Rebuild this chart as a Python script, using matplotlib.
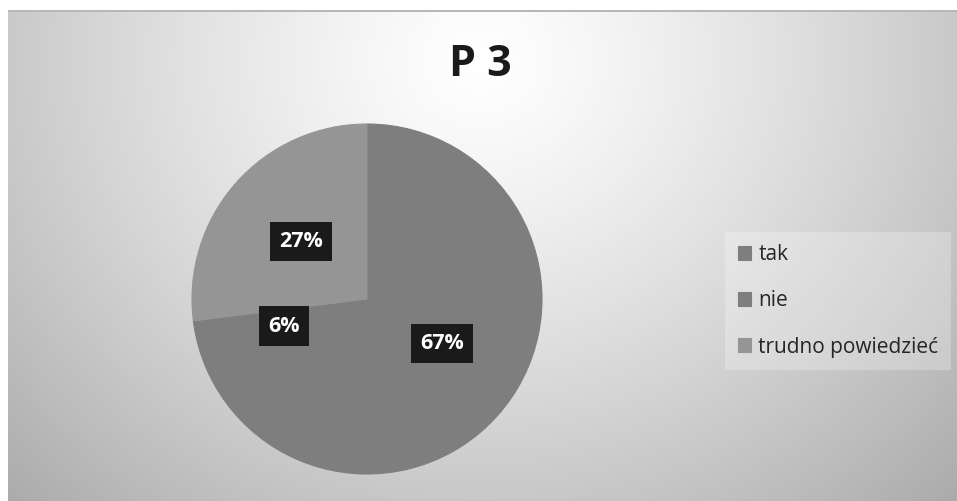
import matplotlib.pyplot as plt
import numpy as np

# dane
labels = ["tak", "nie", "trudno powiedzieć"]
values = [67, 6, 27]
colors = ["#7e7e7e", "#7e7e7e", "#959595"]
title = "P 3"

W, H = 957, 501
fig = plt.figure(figsize=(W / 100, H / 100), dpi=100)
fig.patch.set_facecolor("white")

# tło z gradientem radialnym
bg = fig.add_axes([0, 0, 1, 1])
yy, xx = np.mgrid[0:H, 0:W]
d = np.sqrt((xx - 480) ** 2 + ((yy - 60) * 1.1) ** 2) / 665
g = 255 - 82 * np.clip(d, 0, 1.1) ** 1.25
img = np.dstack([g, g, g]) / 255
img[:10, :, :] = 1
img[:, :8, :] = 1
img[10:12, 8:, :] = 0.72
bg.imshow(img, extent=[0, W, H, 0], aspect="auto", interpolation="bilinear")
bg.set_xlim(0, W)
bg.set_ylim(H, 0)
bg.axis("off")

# wykres kołowy
cx, cy, r = 367, 299, 175
ax = fig.add_axes([(cx - r) / W, (H - cy - r) / H, 2 * r / W, 2 * r / H])
wedges, _, autotexts = ax.pie(
    values,
    colors=colors,
    startangle=90,
    counterclock=False,
    autopct="%1.0f%%",
    pctdistance=0.5,
    textprops=dict(color="white", fontsize=15.5, fontweight="bold", family="Open Sans"),
)
# bez jasnych szwów między wycinkami
for w in wedges:
    w.set_edgecolor(w.get_facecolor())
    w.set_linewidth(0.8)
for t in autotexts:
    t.set_bbox(dict(boxstyle="square,pad=0.42", facecolor="#1a1a1a", edgecolor="none"))
ax.set_xlim(-1, 1)
ax.set_ylim(-1, 1)
ax.set_aspect("equal")
ax.axis("off")

fig.text(480 / W, 1 - 64 / H, title, ha="center", va="center",
         fontsize=31, fontweight="bold", family="Open Sans", color="#1a1a1a")

leg = fig.legend(
    wedges, labels,
    loc="center left",
    bbox_to_anchor=(725 / W, 1 - 301 / H),
    borderaxespad=0,
    prop=dict(family="Open Sans", size=15),
    handlelength=0.65, handleheight=0.65, handletextpad=0.35,
    labelspacing=1.2, borderpad=0.6,
    frameon=True, fancybox=False,
)
leg.get_frame().set_facecolor("white")
leg.get_frame().set_alpha(0.25)
leg.get_frame().set_edgecolor("none")
for t in leg.get_texts():
    t.set_color("#262626")

plt.savefig("out.png", dpi=100)
